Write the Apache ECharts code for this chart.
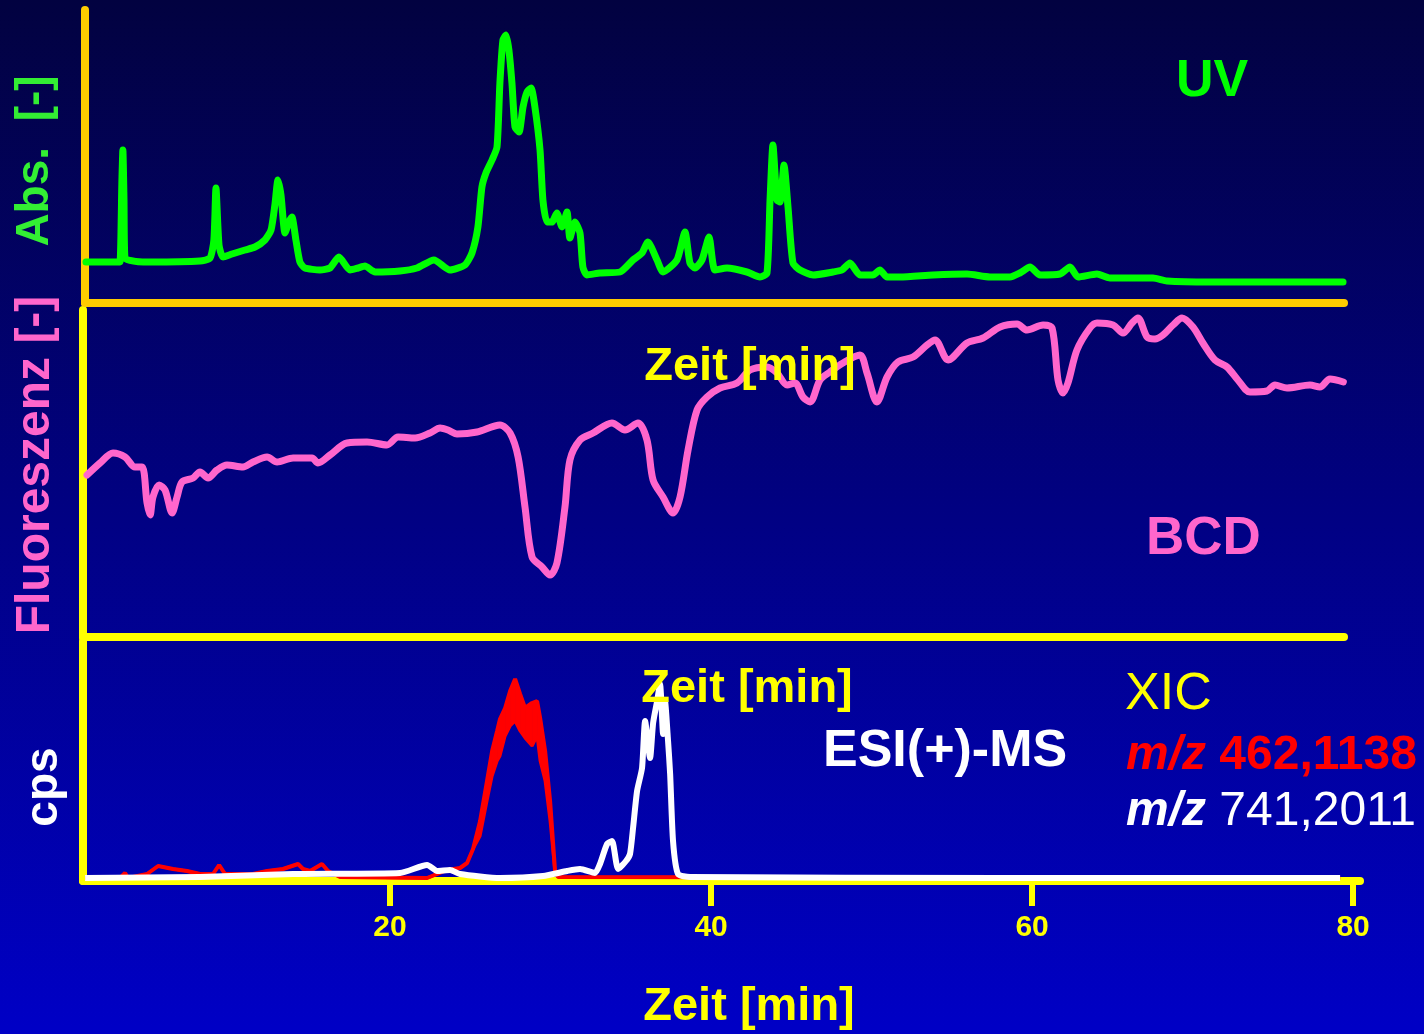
<!DOCTYPE html>
<html>
<head>
<meta charset="utf-8">
<script src="https://cdn.jsdelivr.net/npm/echarts@6/dist/echarts.min.js"></script>
<style>*{margin:0;padding:0}</style>
</head>
<body>
<div id="container" style="width:1424px;height:1034px"></div>
<script>
// UV trace (Abs., arbitrary units)
var uvTime = [1.06,3.05,3.18,3.30,3.36,3.43,3.49,5.05,8.16,8.79,9.03,9.16,9.35,9.60,10.16,10.97,11.59,12.21,12.59,12.83,13.02,13.21,13.46,13.71,13.89,14.14,14.39,14.70,15.64,16.26,16.82,17.51,18.01,18.44,19.07,20.62,21.68,22.74,23.74,24.67,25.11,25.48,25.73,25.98,26.36,26.67,26.85,27.04,27.23,27.41,27.60,27.79,28.04,28.29,28.54,28.79,29.03,29.35,29.53,29.78,30.09,30.40,30.72,31.03,31.21,31.53,31.84,32.02,32.27,33.08,34.33,35.14,35.70,36.07,36.64,37.01,37.88,38.38,38.69,39.00,39.44,39.88,40.25,41.00,42.24,43.05,43.49,43.68,43.86,44.11,44.30,44.55,44.80,45.11,45.55,46.36,47.60,48.16,48.66,49.28,50.09,50.53,50.97,51.78,53.83,55.95,57.38,58.63,59.25,59.88,60.50,61.74,62.37,62.87,64.05,64.86,67.54,68.41,71.09,79.38];
var uvAbs = [41,41,41,123,153,103,45,41,42,45,63,115,58,46,49,53,56,63,73,98,123,108,70,81,86,63,41,35,33,35,46,33,35,37,31,32,35,43,33,38,50,76,116,130,143,156,220,263,268,253,220,176,171,196,211,215,196,153,103,81,81,90,76,91,65,81,70,36,28,30,31,43,50,61,43,31,43,71,40,35,43,66,33,35,31,26,30,103,158,103,101,138,96,40,33,28,31,33,40,28,28,33,26,26,28,29,26,26,30,36,28,29,36,26,29,25,25,22,21,21];

// fluorescence trace (BCD)
var bcdTime = [1.12,1.93,2.74,3.49,4.11,4.55,4.86,5.05,5.23,5.61,5.98,6.42,6.73,7.04,7.73,8.16,8.66,9.22,9.84,10.84,11.46,12.34,12.96,13.96,15.14,15.51,16.26,17.32,18.57,19.81,20.50,21.56,22.49,23.12,23.61,24.17,25.42,26.85,27.48,27.98,28.41,28.85,29.47,29.97,30.40,30.90,31.21,31.84,32.65,33.83,34.64,35.45,36.01,36.39,37.01,37.63,38.07,38.57,39.13,39.75,40.56,41.62,42.43,43.49,44.11,44.74,45.23,45.73,46.17,46.79,47.41,48.22,49.28,49.72,50.34,50.97,51.65,52.59,53.46,53.96,54.77,55.95,56.95,58.01,59.07,59.69,60.69,61.25,61.62,61.93,62.24,62.80,63.61,64.05,65.05,65.67,66.23,66.60,67.17,67.66,68.16,68.79,69.35,70.03,70.65,71.40,72.15,72.83,73.58,74.64,75.14,75.89,77.32,77.94,78.57,79.40];
var bcdFluo = [162,174,184,180,170,170,134,122,140,152,147,124,140,155,159,165,159,167,172,170,175,180,175,179,179,174,182,194,195,192,200,199,204,209,207,203,205,212,204,180,130,80,70,62,74,130,177,197,204,214,207,214,197,157,140,124,140,187,227,240,249,254,267,270,264,252,254,240,235,257,265,274,282,264,235,260,275,280,292,297,277,294,299,310,313,307,312,309,257,244,254,287,309,314,312,304,314,319,300,298,302,312,319,310,294,277,270,257,245,246,252,249,252,250,258,255];

// XIC m/z 462,1138 (noisy signal: upper and lower edge of the band)
var redTime = [1.00,3.18,3.49,3.68,4.86,5.55,6.48,7.35,8.16,8.97,9.35,9.72,11.46,12.34,13.33,14.27,14.58,15.02,15.76,16.14,16.88,22.31,23.55,24.36,24.80,25.17,25.61,26.04,26.36,26.67,26.85,27.17,27.48,27.79,28.10,28.41,28.85,29.16,29.35,29.66,29.97,30.28,30.47,79.19];
var redHigh = [3,3,8,3,7,15,12,10,7,7,16,7,7,10,12,17,12,10,17,10,4,3,11,13,18,32,60,100,130,150,162,173,190,202,187,173,178,180,163,130,80,10,4,3];
var redLow = [3,3,8,3,7,15,12,10,7,7,16,7,7,10,12,17,12,10,17,10,4,3,11,13,18,32,45,80,105,120,125,145,155,160,150,143,135,145,120,100,60,8,4,3];

// XIC m/z 741,2011
var whiteTime = [1.00,8.16,13.96,20.62,22.31,22.93,23.74,24.36,26.85,29.53,31.03,31.84,32.77,33.08,33.52,33.83,34.21,34.70,34.95,35.14,35.39,35.70,35.89,36.20,36.39,36.64,36.82,37.01,37.13,37.32,37.45,37.63,37.94,38.69,58.01,79.19];
var whiteInt = [3,4,7,8,16,10,11,7,3,5,10,12,8,17,37,40,12,20,27,53,90,113,160,123,158,180,197,147,180,140,107,40,7,4,3,3];

var timeTicks = [20, 40, 60, 80];

function pairs(ts, vs) {
  var out = [];
  for (var i = 0; i < ts.length; i++) out.push([ts[i], vs[i]]);
  return out;
}

var FONT = "'Liberation Sans', Arial, sans-serif";
var myChart = echarts.init(document.getElementById('container'));

function plainX(grid, min, max, color) {
  return {
    type: 'value', gridIndex: grid, min: min, max: max,
    axisLine: {show: true, onZero: false, lineStyle: {color: color, width: 8}},
    axisTick: {show: false}, axisLabel: {show: false}, splitLine: {show: false}
  };
}
function plainY(grid, max, color) {
  return {
    type: 'value', gridIndex: grid, min: 0, max: max,
    axisLine: {show: true, onZero: false, lineStyle: {color: color, width: 8}},
    axisTick: {show: false}, axisLabel: {show: false}, splitLine: {show: false}
  };
}

var bottomX = plainX(2, 0.87, 80.43, '#FFFF00');
bottomX.axisTick = {show: true, customValues: timeTicks, length: 25, lineStyle: {color: '#FFFF00', width: 6}};
bottomX.axisLabel = {show: true, customValues: timeTicks, color: '#FFFF00', fontSize: 30,
  fontWeight: 'bold', fontFamily: FONT, margin: 32};

function label(text, x, y, color, size, weight, align, rot) {
  return {
    type: 'text', x: x, y: y, rotation: rot || 0, z: 100,
    style: {
      text: text, fill: color, font: weight + ' ' + size + 'px ' + FONT,
      align: align, verticalAlign: 'middle', textAlign: align, textVerticalAlign: 'middle'
    }
  };
}
function mzLabel(num, x, y, color, numWeight) {
  return {
    type: 'text', x: x, y: y, z: 100,
    style: {
      text: '{i|m/z} {n|' + num + '}', fill: color, font: 'bold 48px ' + FONT,
      align: 'left', verticalAlign: 'middle', textAlign: 'left', textVerticalAlign: 'middle',
      rich: {
        i: {fill: color, font: 'italic bold 48px ' + FONT},
        n: {fill: color, font: numWeight + ' 48px ' + FONT}
      }
    }
  };
}

// filled band between the upper and lower edge of the noisy red trace
function redBand(params, api) {
  var i = params.dataIndex;
  if (i >= redTime.length - 1) return null;
  var pts = [
    api.coord([redTime[i], redHigh[i]]),
    api.coord([redTime[i + 1], redHigh[i + 1]]),
    api.coord([redTime[i + 1], redLow[i + 1]]),
    api.coord([redTime[i], redLow[i]])
  ];
  return {type: 'polygon', shape: {points: pts}, style: {fill: '#FF0000', stroke: '#FF0000', lineWidth: 1}};
}

var option = {
  backgroundColor: {type: 'linear', x: 0, y: 0, x2: 0, y2: 1,
    colorStops: [{offset: 0, color: '#020240'}, {offset: 1, color: '#0000C6'}]},
  animation: false,
  grid: [
    {left: 85, top: 10, width: 1259, height: 293},
    {left: 83, top: 310, width: 1261, height: 327},
    {left: 83, top: 641, width: 1277, height: 240}
  ],
  xAxis: [plainX(0, 1, 79.44, '#FFCC00'), plainX(1, 0.87, 79.44, '#FFFF00'), bottomX],
  yAxis: [plainY(0, 293, '#FFCC00'), plainY(1, 327, '#FFFF00'), plainY(2, 240, '#FFFF00')],
  series: [
    {name: 'UV', type: 'line', xAxisIndex: 0, yAxisIndex: 0, data: pairs(uvTime, uvAbs),
      showSymbol: false, smooth: 0.2, lineStyle: {color: '#00FF00', width: 7, join: 'round', cap: 'round'}},
    {name: 'BCD', type: 'line', xAxisIndex: 1, yAxisIndex: 1, data: pairs(bcdTime, bcdFluo),
      showSymbol: false, smooth: 0.3, lineStyle: {color: '#FF66CC', width: 7, join: 'round', cap: 'round'}},
    {name: 'm/z 462,1138 band', type: 'custom', xAxisIndex: 2, yAxisIndex: 2, clip: true,
      data: redTime.map(function (t, i) { return [t, redHigh[i], redLow[i]]; }),
      encode: {x: 0, y: [1, 2]}, renderItem: redBand},
    {name: 'm/z 462,1138', type: 'line', xAxisIndex: 2, yAxisIndex: 2, data: pairs(redTime, redHigh),
      showSymbol: false, lineStyle: {color: '#FF0000', width: 4}},
    {name: 'm/z 462,1138 low', type: 'line', xAxisIndex: 2, yAxisIndex: 2, data: pairs(redTime, redLow),
      showSymbol: false, lineStyle: {color: '#FF0000', width: 3}},
    {name: 'm/z 741,2011', type: 'line', xAxisIndex: 2, yAxisIndex: 2, data: pairs(whiteTime, whiteInt),
      showSymbol: false, smooth: 0.2, lineStyle: {color: '#FFFFFF', width: 6, join: 'round'}}
  ],
  graphic: [
    label('Abs.  [-]', 35, 161, '#33EE33', 46, 'bold', 'center', Math.PI / 2),
    label('Fluoreszenz [-]', 36, 465, '#FF66CC', 48, 'bold', 'center', Math.PI / 2),
    label('cps', 44, 787, '#FFFFFF', 46, 'bold', 'center', Math.PI / 2),
    label('UV', 1176, 82, '#00FF00', 52, 'bold', 'left'),
    label('BCD', 1146, 539, '#FF66CC', 53, 'bold', 'left'),
    label('Zeit [min]', 750, 367, '#FFFF00', 47, 'bold', 'center'),
    label('Zeit [min]', 747, 689, '#FFFF00', 47, 'bold', 'center'),
    label('Zeit [min]', 749, 1007, '#FFFF00', 47, 'bold', 'center'),
    label('ESI(+)-MS', 823, 752, '#FFFFFF', 52, 'bold', 'left'),
    label('XIC', 1125, 695, '#FFFF00', 52, 'normal', 'left'),
    mzLabel('462,1138', 1126, 756, '#FF0000', 'bold'),
    mzLabel('741,2011', 1126, 812, '#FFFFFF', 'normal')
  ]
};
myChart.setOption(option);
</script>
</body>
</html>
